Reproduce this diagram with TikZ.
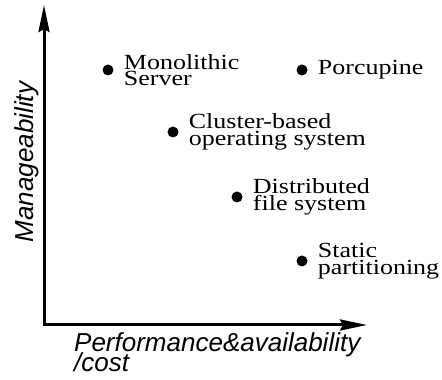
\documentclass[tikz,border=0pt]{standalone}
\usepackage{fontspec}
\setmainfont{Liberation Serif}
\newfontfamily\axisfont{Liberation Sans}
\usetikzlibrary{arrows.meta,positioning}
\newcommand\tightlines{\lineskiplimit=-100pt\relax}

\begin{document}
\begin{tikzpicture}[x=1pt, y=1pt, >={Stealth[length=27pt,width=11pt,inset=3pt]},
  dot/.style={circle, fill=black, inner sep=0pt, minimum size=11pt},
  item/.style={align=left, inner sep=0pt, yscale=0.83,
    font=\fontsize{26}{20}\selectfont\tightlines},
  axislbl/.style={align=left, inner sep=0pt,
    font=\axisfont\itshape\fontsize{26}{20}\selectfont\tightlines}]
  \useasboundingbox (0,0) rectangle (442,380);

  % axes
  \coordinate (o) at (44,55);
  \coordinate (ytop) at (44,375);
  \coordinate (xend) at (367,55);
  \draw [<->, line width=3pt] (ytop) -- (o) -- (xend);
  \node [axislbl, rotate=90, anchor=base] (ylbl) at (33,218) {Manageability};
  \node [axislbl, anchor=north west] (xlbl) at (74,48) {Performance\&availability\\/cost};

  % systems
  \node [dot] (mono) at (108,310) {};
  \node [item, right=10pt of mono] (monotxt) {Monolithic\\Server};
  \node [dot] (porc) at (302,310) {};
  \node [item, right=10pt of porc] (porctxt) {Porcupine};
  \node [dot] (clus) at (173,248) {};
  \node [item, right=10pt of clus] (clustxt) {Cluster-based\\operating system};
  \node [dot] (dist) at (237,183) {};
  \node [item, right=10pt of dist] (disttxt) {Distributed\\file system};
  \node [dot] (stat) at (302,119) {};
  \node [item, right=10pt of stat] (stattxt) {Static\\partitioning};
\end{tikzpicture}
\end{document}
